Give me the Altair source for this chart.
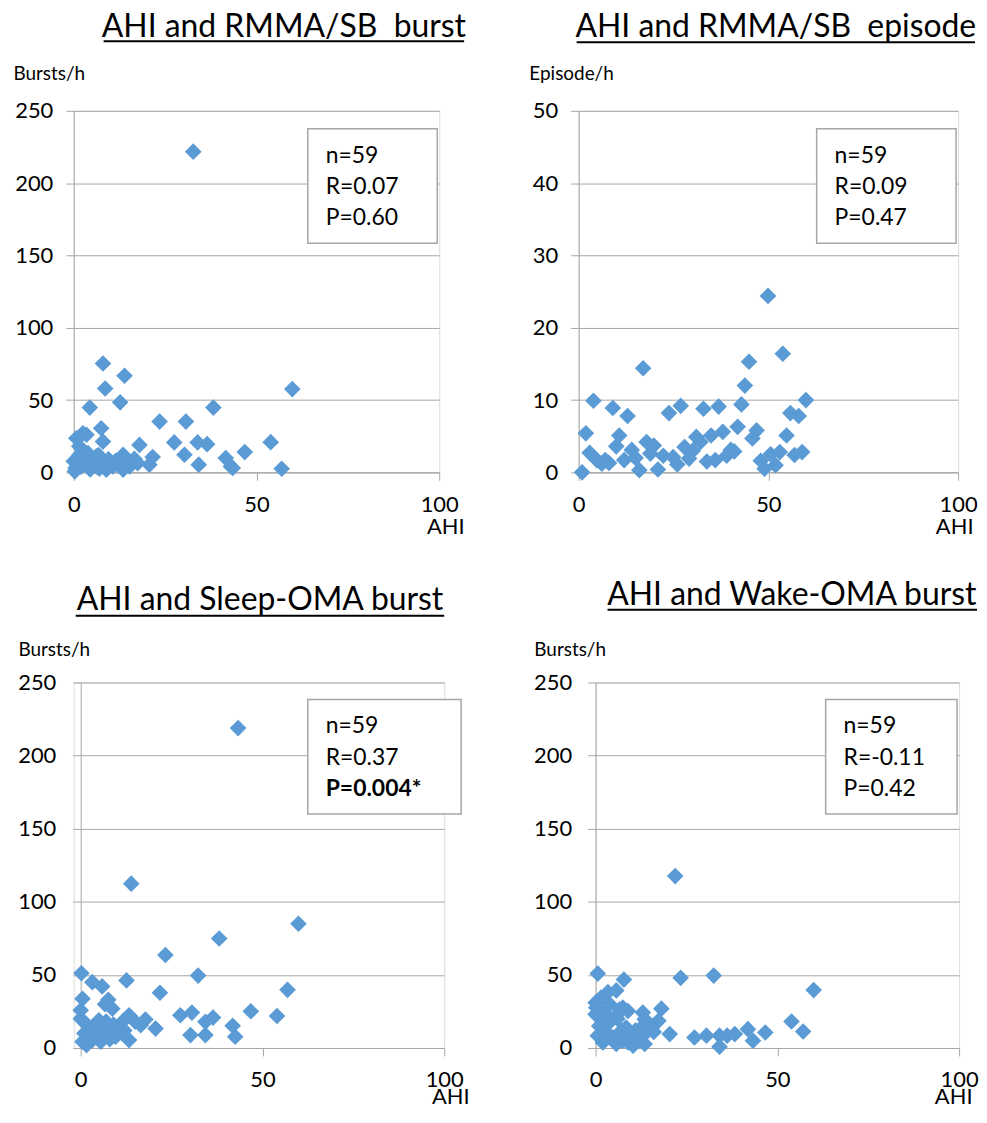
import altair as alt
import pandas as pd

# ---------------- data ----------------
titles = ["AHI and RMMA/SB  burst", "AHI and RMMA/SB  episode",
          "AHI and Sleep-OMA burst", "AHI and Wake-OMA burst"]
y_titles = ["Bursts/h", "Episode/h", "Bursts/h", "Bursts/h"]
y_max = [250, 50, 250, 250]
y_step = [50, 10, 50, 50]
x_ticks = [0, 50, 100]
stat_n = ["n=59", "n=59", "n=59", "n=59"]
stat_r = ["R=0.07", "R=0.09", "R=0.37", "R=-0.11"]
stat_p = ["P=0.60", "P=0.47", "P=0.004*", "P=0.42"]
stat_p_bold = [False, False, True, False]

# Panel 1: AHI vs RMMA/SB bursts
p1_ahi = [32.7, 8.0, 13.9, 8.6, 59.8, 4.4, 12.7, 38.2, 23.5, 30.7, 7.5, 2.5, 0.7, 3.5,
          8.0, 18.0, 27.5, 33.9, 36.5, 53.9, 30.3, 46.8, 34.2, 41.6, 43.0, 56.9, 21.6,
          20.7, 17.5, 16.6, 13.5, 13.5, 10.3, 8.9, 6.2, 6.2, 3.9, 1.6, 0.0, 0.3, 2.5,
          5.3, 8.0, 10.7, 12.5, 15.3, 43.5, 1.0, 2.0, 3.0, 4.5, 6.8, 9.5, 11.5, 14.5,
          1.5, 0.5, 5.0, 7.0]
p1_val = [221.8, 75.3, 66.8, 58.0, 57.6, 44.8, 48.4, 44.8, 35.1, 35.1, 30.5, 27.0, 23.6, 26.0,
          21.3, 19.0, 20.7, 20.7, 19.5, 20.9, 12.2, 14.0, 5.3, 9.9, 4.1, 2.5, 10.6,
          5.3, 6.4, 9.4, 12.2, 1.8, 6.4, 1.8, 4.1, 11.0, 13.3, 12.2, 7.6, 0.7, 6.4,
          8.7, 7.6, 4.1, 5.3, 4.1, 3.0, 10.0, 4.0, 9.0, 2.0, 12.0, 9.0, 8.0, 7.0,
          18.0, 3.0, 6.0, 2.5]

# Panel 2: AHI vs RMMA/SB episodes
p2_ahi = [0.9, 1.9, 3.9, 2.9, 4.8, 6.1, 7.0, 8.0, 9.0, 9.9, 10.7, 12.0, 12.9, 14.0,
          15.0, 16.0, 17.0, 17.9, 18.9, 19.8, 20.9, 22.3, 23.8, 24.9, 26.0, 26.9, 27.9,
          29.1, 30.1, 31.0, 32.1, 32.9, 33.8, 34.9, 36.0, 36.9, 38.0, 39.0, 40.1, 41.0,
          41.9, 42.9, 43.8, 44.9, 45.8, 46.9, 48.0, 49.0, 49.9, 50.6, 51.9, 53.0, 53.8,
          54.8, 55.8, 58.0, 56.9, 58.9, 59.9]
p2_val = [0.0, 5.4, 9.9, 2.7, 1.7, 1.2, 1.7, 1.3, 8.9, 3.6, 5.1, 1.7, 7.8, 3.1,
          2.0, 0.3, 14.4, 4.2, 2.6, 3.7, 0.4, 2.3, 8.2, 2.1, 1.1, 9.2, 3.5,
          1.9, 3.0, 4.9, 4.2, 8.8, 1.5, 5.1, 1.7, 9.1, 5.6, 2.3, 3.1, 2.9,
          6.3, 9.4, 12.0, 15.3, 4.7, 5.8, 1.6, 0.5, 24.4, 2.5, 1.0, 2.8, 16.4,
          5.1, 8.2, 7.8, 2.4, 2.8, 10.0]

# Panel 3: AHI vs Sleep-OMA bursts
p3_ahi = [43.3, 13.9, 59.9, 38.1, 23.3, 0.2, 3.2, 5.9, 12.6, 32.3, 21.8, 56.9, 0.5, 7.6,
          6.7, 8.7, 0.0, 46.8, 27.4, 30.6, 36.4, 34.3, 54.0, 41.8, 42.5, 30.2, 34.3,
          17.8, 20.6, 16.5, 13.3, 13.3, 11.9, 10.5, 9.1, 7.8, 5.0, 4.1, 2.7, 1.4,
          0.5, 1.6, 3.2, 5.5, 6.9, 9.6, 11.4, 0.0, 2.0, 3.8, 6.0, 8.0, 10.0, 12.0,
          15.0, 1.0, 4.5, 7.0, 9.0]
p3_val = [218.8, 112.4, 85.0, 74.9, 63.6, 51.1, 45.0, 42.1, 46.2, 49.5, 37.8, 39.8, 33.7, 33.0,
          29.9, 26.9, 25.8, 25.1, 22.4, 24.2, 20.8, 17.9, 21.9, 15.2, 7.7, 8.8, 8.8,
          19.5, 13.3, 15.6, 22.4, 5.4, 19.0, 14.5, 12.2, 10.0, 19.0, 14.5, 11.1, 16.7,
          4.3, 2.0, 5.4, 4.3, 8.8, 7.7, 10.0, 20.0, 8.0, 12.0, 16.0, 6.0, 14.0, 12.0,
          18.0, 10.0, 7.0, 18.0, 16.0]

# Panel 4: AHI vs Wake-OMA bursts
p4_ahi = [21.9, 0.6, 7.8, 23.4, 32.5, 60.0, 5.7, 3.4, 1.5, 0.0, 0.2, 3.9, 6.6, 8.9,
          2.5, 0.0, 18.1, 13.0, 13.5, 17.3, 15.8, 12.6, 14.0, 20.4, 53.9, 57.1, 46.7,
          41.9, 43.3, 38.3, 36.2, 34.1, 34.1, 30.5, 27.2, 0.6, 2.0, 3.4, 4.8, 7.1,
          8.4, 8.9, 10.3, 7.5, 11.7, 13.5, 5.7, 1.1, 5.7, 7.5, 1.0, 2.5, 4.0, 6.0,
          9.5, 11.0, 12.0, 3.0, 16.0]
p4_val = [117.6, 50.9, 46.8, 48.0, 49.5, 39.6, 39.4, 38.2, 34.4, 31.0, 27.6, 29.9, 26.5, 25.3,
          24.2, 23.0, 26.9, 24.2, 19.7, 18.6, 15.2, 14.0, 10.6, 9.5, 18.1, 11.3, 10.6,
          12.9, 5.0, 9.5, 8.4, 8.4, 0.9, 8.4, 7.2, 8.4, 3.8, 9.5, 7.2, 11.8,
          14.0, 3.8, 1.6, 5.0, 7.2, 2.7, 2.7, 22.0, 22.0, 27.6, 15.0, 12.0, 18.0, 20.0,
          6.0, 12.0, 5.0, 16.0, 11.0]

ahi_all = [p1_ahi, p2_ahi, p3_ahi, p4_ahi]
val_all = [p1_val, p2_val, p3_val, p4_val]

# ---------------- layout / style (not data) ----------------
FONT = "Lato"
GRID = "#a6a6a6"
PT = "#5B9BD5"
W = [367, 381, 365, 365]          # plot widths (axis to x=100)
H = [363, 363, 367, 367]
SHIFT = [0, 0, 7, 0]              # axis shift inside the cell (first column only)
LPAD = [13, 13, 17, 16]
XLPAD = [14, 14, 14, 14]
AHI_DX = [25, 15, 25, 13]
AHI_DY = [54, 54, 49, 49]
ytitle_xy = [(-61, -37), (-50, -37), (-63, -33), (-62, -33)]
title_pos = [(211, -84), (198, -84), (180, -83), (197, -88)]
ul_pos = [(30, 392, -70), (-2, 398, -69), (-5, 365, -67), (12, 383, -73)]
box_pos = [(235, 365, 18, 133), (239, 379, 18, 133), (228, 382, 17, 132), (231, 363, 17, 132)]
left_spacer = [-65, -50, None, -67]
top_spacer = [-99, -99, -104, -104]

one = alt.Data(values=[{}])


def spacer(x, y):
    return alt.Chart(one).mark_rule(strokeOpacity=0, opacity=0).encode(
        x=alt.value(x), x2=alt.value(x + 1), y=alt.value(y))


def panel(i):
    df = pd.DataFrame({"AHI": ahi_all[i], "v": val_all[i]})
    s = SHIFT[i]
    w, h = W[i] + s, H[i]
    pts = alt.Chart(df).mark_point(shape="diamond", filled=True, size=280,
                                   color=PT, opacity=1).encode(
        x=alt.X("AHI:Q", scale=alt.Scale(domain=[0, 100], nice=False, range=[s, w]),
                axis=alt.Axis(values=x_ticks, grid=False, title="AHI",
                              domainColor=GRID, tickColor=GRID, tickSize=8,
                              labelFlush=False,
                              labelFontSize=22, labelFont=FONT, labelColor="black",
                              labelPadding=XLPAD[i], titleFont=FONT, titleFontSize=22,
                              titleFontWeight="normal", titleColor="black",
                              titleAlign="right", titleBaseline="middle",
                              titleX=w + AHI_DX[i], titleY=AHI_DY[i])),
        y=alt.Y("v:Q", scale=alt.Scale(domain=[0, y_max[i]], nice=False),
                axis=alt.Axis(values=list(range(0, y_max[i] + 1, y_step[i])),
                              offset=-s,
                              grid=True, gridColor=GRID, domainColor=GRID,
                              tickColor=GRID, tickSize=8, labelFontSize=22,
                              labelFlush=False,
                              labelFont=FONT, labelColor="black", labelPadding=LPAD[i],
                              title=y_titles[i], titleFont=FONT, titleFontSize=19,
                              titleFontWeight="normal", titleColor="black",
                              titleAngle=0, titleAlign="left", titleBaseline="middle",
                              titleX=ytitle_xy[i][0], titleY=ytitle_xy[i][1])),
    )
    bx = box_pos[i]
    box = alt.Chart(one).mark_rect(fill="white", stroke=GRID, strokeWidth=1.5).encode(
        x=alt.value(bx[0] + s), x2=alt.value(bx[1] + s), y=alt.value(bx[2]),
        y2=alt.value(bx[3]))
    tx = bx[0] + 18 + s
    layers = [box]
    for k, (txt, bold) in enumerate([(stat_n[i], False), (stat_r[i], False),
                                     (stat_p[i], stat_p_bold[i])]):
        layers.append(alt.Chart(one).mark_text(
            align="left", baseline="middle", font=FONT, fontSize=23, color="black",
            fontWeight="bold" if bold else "normal").encode(
            x=alt.value(tx), y=alt.value(bx[2] + 27 + 31.5 * k), text=alt.value(txt)))
    layers.append(alt.Chart(one).mark_text(align="center", baseline="middle", font=FONT,
                                           fontSize=32, color="black").encode(
        x=alt.value(title_pos[i][0] + s), y=alt.value(title_pos[i][1]),
        text=alt.value(titles[i].replace("  ", " \u00a0"))))
    layers.append(alt.Chart(one).mark_rule(color="black", strokeWidth=2).encode(
        x=alt.value(ul_pos[i][0] + s), x2=alt.value(ul_pos[i][1] + s),
        y=alt.value(ul_pos[i][2])))
    if left_spacer[i] is not None:
        layers.append(spacer(left_spacer[i], h / 2))
    layers.append(spacer(10 + s, top_spacer[i]))
    layers.append(pts)
    return alt.layer(*layers).properties(width=w, height=h)


chart = alt.concat(panel(0), panel(1), panel(2), panel(3), columns=2,
                   align=alt.RowColLayoutAlign(column="none", row="each"),
                   spacing=alt.RowColnumber(row=40, column=58)).configure_view(
    stroke=None).configure(font=FONT).properties(
    padding={"left": 0, "top": 0, "right": 0, "bottom": 0})

chart.save("out.html", embed_options={"renderer": "svg", "actions": False})
